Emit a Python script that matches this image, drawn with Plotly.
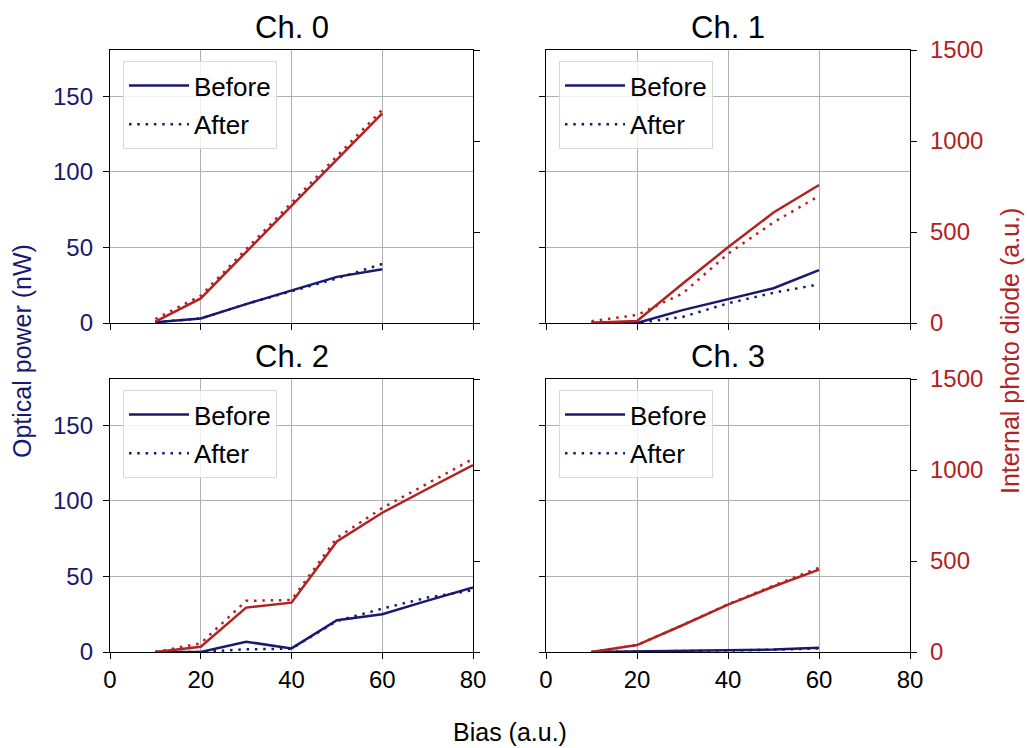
import plotly.graph_objects as go
from plotly.subplots import make_subplots

# ---- data -------------------------------------------------------------
BIAS_SHORT = [10, 20, 30, 40, 50, 60]
BIAS_LONG = [10, 20, 30, 40, 50, 60, 70, 80]

CHANNEL_NAMES = ["Ch. 0", "Ch. 1", "Ch. 2", "Ch. 3"]

# optical power (nW)
ch0_opt_before = [0.5, 3.0, 12.5, 21.5, 30.5, 35.5]
ch0_opt_after = [0.5, 3.0, 12.5, 21.0, 29.5, 39.0]
ch1_opt_before = [0.0, 0.0, 8.5, 16.0, 23.0, 35.0]
ch1_opt_after = [0.0, 0.0, 4.0, 13.0, 20.0, 25.5]
ch2_opt_before = [0.0, 0.0, 6.8, 2.4, 21.0, 25.0, 34.0, 42.6]
ch2_opt_after = [0.0, 0.0, 1.8, 2.2, 20.5, 28.7, 36.0, 40.8]
ch3_opt_before = [0.0, 0.3, 0.7, 1.1, 1.6, 2.8]
ch3_opt_after = [0.0, 0.2, 0.6, 1.0, 1.5, 2.3]

# internal photo diode (a.u.)
ch0_pd_before = [7, 135, 390, 645, 900, 1152]
ch0_pd_after = [22, 150, 405, 660, 915, 1172]
ch1_pd_before = [2, 11, 216, 416, 607, 758]
ch1_pd_after = [10, 44, 162, 380, 553, 698]
ch2_pd_before = [0, 29, 244, 271, 607, 765, 897, 1027]
ch2_pd_after = [0, 48, 281, 286, 627, 791, 926, 1061]
ch3_pd_before = [0, 38, 147, 260, 360, 453]
ch3_pd_after = [0, 38, 148, 262, 365, 463]

X_TICKS = [0, 20, 40, 60, 80]
OPT_TICKS = [0, 50, 100, 150]
PD_TICKS = [0, 500, 1000, 1500]

channels = [
    (BIAS_SHORT, ch0_opt_before, ch0_opt_after, ch0_pd_before, ch0_pd_after),
    (BIAS_SHORT, ch1_opt_before, ch1_opt_after, ch1_pd_before, ch1_pd_after),
    (BIAS_LONG, ch2_opt_before, ch2_opt_after, ch2_pd_before, ch2_pd_after),
    (BIAS_SHORT, ch3_opt_before, ch3_opt_after, ch3_pd_before, ch3_pd_after),
]

# ---- style ------------------------------------------------------------
NAVY = "#191970"
RED = "#b22222"
GRID = "#b0b0b0"
FONT = "Liberation Sans, Arial, sans-serif"
W, H = 1027, 748
LW = 2.5
DOT = "2.5px,5.8px"

COL_X = [(110, 473), (546, 910)]   # panel left/right edges in px
ROW_Y = [(50, 323), (379, 652)]    # panel top/bottom edges in px


def fx(p):
    return p / W


def fy(p):
    return 1 - p / H


fig = make_subplots(rows=2, cols=2,
                    specs=[[{"secondary_y": True}, {"secondary_y": True}],
                           [{"secondary_y": True}, {"secondary_y": True}]])

legend_layout = {}
annotations = []
for i, (bias, ob, oa, pb, pa) in enumerate(channels):
    r, c = i // 2, i % 2
    leg = "legend" if i == 0 else f"legend{i + 1}"

    fig.add_trace(go.Scatter(x=bias, y=ob, mode="lines", name="Before",
                             line=dict(color=NAVY, width=LW),
                             legend=leg, legendgroup=f"before{i}"),
                  row=r + 1, col=c + 1, secondary_y=False)
    fig.add_trace(go.Scatter(x=bias, y=oa, mode="lines", name="After",
                             line=dict(color=NAVY, width=LW, dash=DOT),
                             legend=leg, legendgroup=f"after{i}"),
                  row=r + 1, col=c + 1, secondary_y=False)
    fig.add_trace(go.Scatter(x=bias, y=pb, mode="lines", name="PD before",
                             line=dict(color=RED, width=LW), showlegend=False),
                  row=r + 1, col=c + 1, secondary_y=True)
    fig.add_trace(go.Scatter(x=bias, y=pa, mode="lines", name="PD after",
                             line=dict(color=RED, width=LW, dash=DOT),
                             showlegend=False),
                  row=r + 1, col=c + 1, secondary_y=True)

    x0, x1 = COL_X[c]
    y0, y1 = ROW_Y[r]
    common = dict(showline=True, linecolor="black", linewidth=1.3,
                  ticks="outside", ticklen=6, tickwidth=1.3, tickcolor="black",
                  zeroline=False, automargin=False,
                  tickfont=dict(family=FONT, size=24))

    fig.update_xaxes(domain=[fx(x0), fx(x1)], range=[0, 80], tickvals=X_TICKS,
                     showgrid=True, gridcolor=GRID, gridwidth=1, mirror=True,
                     showticklabels=(r == 1), ticklabelstandoff=0,
                     row=r + 1, col=c + 1, **common)
    fig.update_yaxes(domain=[fy(y1), fy(y0)], range=[0, 180.5], tickvals=OPT_TICKS,
                     showgrid=True, gridcolor=GRID, gridwidth=1,
                     showticklabels=(c == 0), ticklabelstandoff=5,
                     row=r + 1, col=c + 1, secondary_y=False, **common)
    fig.update_yaxes(range=[0, 1500], tickvals=PD_TICKS, showgrid=False,
                     showticklabels=(c == 1), ticklabelstandoff=8,
                     row=r + 1, col=c + 1, secondary_y=True, **common)

    legend_layout[leg] = dict(
        x=fx(x0 + 13), y=fy(y0 + 11), xanchor="left", yanchor="top",
        bgcolor="rgba(255,255,255,0.8)", bordercolor="#d8d8d8", borderwidth=1,
        font=dict(family=FONT, size=26, color="black"),
        tracegroupgap=2, traceorder="grouped", itemwidth=60,
    )

    annotations.append(dict(text=CHANNEL_NAMES[i], x=fx((x0 + x1) / 2),
                            y=fy(y0 - 23), xref="paper", yref="paper",
                            showarrow=False, xanchor="center", yanchor="middle",
                            font=dict(family=FONT, size=31, color="black")))

# colour the tick labels of the two y scales
for r in (1, 2):
    fig.update_yaxes(tickfont_color=NAVY, row=r, col=1, secondary_y=False)
    fig.update_yaxes(tickfont_color=RED, row=r, col=2, secondary_y=True)

annotations += [
    dict(text="Optical power (nW)", x=fx(22), y=fy(351), textangle=-90,
         xref="paper", yref="paper", showarrow=False,
         xanchor="center", yanchor="middle",
         font=dict(family=FONT, size=25, color=NAVY)),
    dict(text="Internal photo diode (a.u.)", x=fx(1010), y=fy(351), textangle=-90,
         xref="paper", yref="paper", showarrow=False,
         xanchor="center", yanchor="middle",
         font=dict(family=FONT, size=25, color=RED)),
    dict(text="Bias (a.u.)", x=fx(510), y=fy(732), xref="paper", yref="paper",
         showarrow=False, xanchor="center", yanchor="middle",
         font=dict(family=FONT, size=25, color="black")),
]

fig.update_layout(
    width=W, height=H, margin=dict(l=0, r=0, t=0, b=0),
    paper_bgcolor="white", plot_bgcolor="white",
    font=dict(family=FONT, color="black"),
    annotations=annotations,
    **legend_layout,
)

fig.write_html("out.html")
